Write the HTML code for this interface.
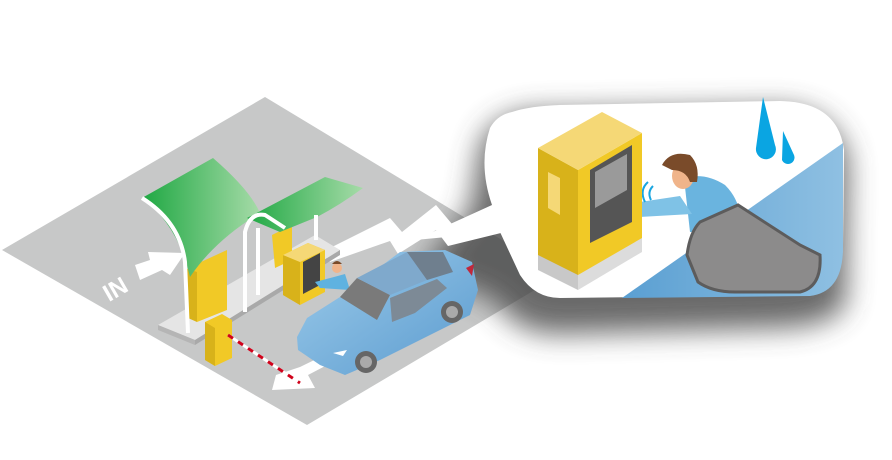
<!DOCTYPE html>
<html><head><meta charset="utf-8"><style>
html,body{margin:0;padding:0;background:#fff;width:892px;height:460px;overflow:hidden}
svg{display:block}
</style></head><body>
<svg width="892" height="460" viewBox="0 0 892 460" xmlns="http://www.w3.org/2000/svg">
<defs>
<linearGradient id="g1" x1="0" y1="0" x2="1" y2="0"><stop offset="0" stop-color="#1fa843"/><stop offset="1" stop-color="#a6dba8"/></linearGradient>
<linearGradient id="car" x1="0" y1="0" x2="1" y2="1"><stop offset="0" stop-color="#9ccbea"/><stop offset="1" stop-color="#5b9bcf"/></linearGradient>
<linearGradient id="ws" x1="0" y1="0" x2="1" y2="0"><stop offset="0" stop-color="#5a9fd2"/><stop offset="1" stop-color="#8fc0e2"/></linearGradient>
<filter id="sh" x="-20%" y="-20%" width="140%" height="150%"><feGaussianBlur stdDeviation="14"/></filter>
</defs>
<polygon points="2,250 265,97 560,275 307,425" fill="#c7c8c8"/>
<!-- bubble shadow -->
<path d="M478,160 Q480,120 530,112 L780,108 Q835,110 848,160 L846,300 Q840,325 780,328 L560,334 Q515,334 495,300 L420,270 L470,210 Z" fill="#444" opacity="0.8" filter="url(#sh)"/>
<polygon points="322,252 390,218 402,232 436,205 452,224 500,205 505,232 448,246 436,230 398,254 390,241 330,262" fill="#fff"/>
<!-- bubble -->
<path d="M512,112 Q530,106 560,105 L780,101 Q838,102 844,150 L843,245 Q842,292 810,295 L560,298 Q535,298 520,275 L500,232 L415,240 L492,205 Q478,165 490,128 Q497,115 512,112 Z" fill="#fff"/>
<path d="M622,298 L843,143 L843,250 Q842,292 810,296 Z" fill="url(#ws)"/>
<!-- person in bubble -->
<path d="M684,178 Q705,172 725,185 Q738,198 740,215 L720,232 L690,232 Z" fill="#6ab4df"/>
<path d="M620,205 L680,196 L692,214 L622,218 Z" fill="#7fc2e6"/>
<ellipse cx="683" cy="176" rx="11" ry="13" fill="#f0b48a"/>
<path d="M662,165 Q670,150 690,155 Q700,165 697,182 L690,182 Q686,170 672,170 Z" fill="#7a4b2a"/>
<rect x="612" y="200" width="12" height="10" rx="4" fill="#f0b48a"/>
<path d="M653,186 q-6,6 -2,14 M648,182 q-9,8 -3,20" stroke="#1aa6e0" stroke-width="2" fill="none"/>
<!-- windshield -->
<path d="M687,255 Q690,232 700,222 L738,205 L800,245 L820,255 Q822,287 800,292 L735,292 Q712,292 698,282 Z" fill="#8c8b8b" stroke="#5d5c5c" stroke-width="3"/>
<!-- kiosk in bubble -->
<polygon points="538,148 578,170 578,280 538,262" fill="#d8b21a"/>
<polygon points="578,170 642,133 642,242 578,280" fill="#f1c926"/>
<polygon points="538,148 602,112 642,133 578,170" fill="#f5d876"/>
<polygon points="538,255 578,275 578,290 538,270" fill="#c8c8c8"/>
<polygon points="578,275 642,238 642,252 578,290" fill="#dcdcdc"/>
<polygon points="548,172 560,178 560,215 548,208" fill="#f5d876"/>
<polygon points="590,170 632,145 632,222 590,243" fill="#555"/>
<polygon points="595,172 627,154 627,190 595,208" fill="#9a9a9a"/>
<path d="M763,97 L775,145 A10,10 0 1 1 756,148 Z" fill="#0aa5e2"/>
<path d="M783,131 L794,155 A6,6 0 1 1 782,160 Z" fill="#0aa5e2"/>
<!-- platform -->
<polygon points="158,325 315,235 340,250 195,340" fill="#e5e5e5"/>
<polygon points="158,325 195,340 195,345 158,330" fill="#b5b5b5"/>
<polygon points="195,340 340,250 340,255 195,345" fill="#a9a9a9"/>
<!-- IN arrow & text -->
<polygon points="135,265 150,260 148,252 185,253 170,275 162,270 140,280" fill="#fff"/>
<text x="103" y="300" transform="rotate(-30 110 290)" font-family="Liberation Sans, sans-serif" font-weight="bold" font-size="24" fill="#fff">IN</text>
<polygon points="276,375 300,367 345,345 352,352 308,375 315,388 272,390" fill="#fff"/>
<!-- booths -->
<polygon points="190,267 227,250 227,310 197,322" fill="#f1c926"/>
<polygon points="185,268 197,272 197,322 188,318" fill="#d8b21a"/>
<polygon points="272,235 292,225 292,260 275,268" fill="#f1c926"/>
<!-- canopy -->
<path d="M142,198 L213,158 Q250,190 260,213 Q215,240 190,277 Q178,225 142,198 Z" fill="url(#g1)"/>
<path d="M247,218 L325,177 L363,188 Q340,205 317,217 L280,232 Z" fill="url(#g1)"/>
<path d="M142,198 Q180,222 185,262 L188,333" stroke="#fff" stroke-width="4" fill="none"/>
<path d="M245,312 L245,232 Q250,212 265,215 L285,228" stroke="#fff" stroke-width="4" fill="none"/>
<line x1="258" y1="295" x2="258" y2="228" stroke="#fff" stroke-width="4"/>
<line x1="316" y1="240" x2="316" y2="215" stroke="#fff" stroke-width="4"/>
<!-- kiosk small -->
<polygon points="283,255 308,243 325,250 325,292 300,305 283,295" fill="#f1c926"/>
<polygon points="283,255 300,262 300,305 283,295" fill="#d8b21a"/>
<polygon points="283,255 308,243 325,250 300,262" fill="#f5d876"/>
<polygon points="303,262 320,253 320,285 303,294" fill="#444"/>
<!-- barrier -->
<polygon points="205,322 222,314 232,320 232,358 215,366 205,360" fill="#f1c926"/>
<polygon points="205,322 215,328 215,366 205,360" fill="#d8b21a"/>
<line x1="228" y1="335" x2="300" y2="383" stroke="#fff" stroke-width="3"/>
<line x1="228" y1="335" x2="300" y2="383" stroke="#d0021b" stroke-width="3" stroke-dasharray="6,6"/>
<!-- man small -->
<circle cx="337" cy="268" r="5" fill="#f0b48a"/>
<path d="M332,264 q5,-6 10,0 z" fill="#7a4b2a"/>
<path d="M315,282 L334,277 L345,274 L350,290 L320,288 Z" fill="#5fb2e0"/>
<!-- car -->
<path d="M297,337 L307,318 L340,297 L400,252 L445,250 L472,262 L478,290 L470,315 L380,360 L345,375 L320,365 L298,350 Z" fill="url(#car)"/>
<polygon points="340,297 357,278 390,295 377,320" fill="#7a7a7a"/>
<polygon points="357,278 407,252 443,252 453,272 427,280 390,295" fill="#7fa9cc"/>
<polygon points="407,252 443,252 453,272 427,280" fill="#6f7f8e"/>
<polygon points="390,298 437,279 447,288 415,313 392,322" fill="#7d8a96"/>
<path d="M466,268 l8,-4 l-2,12 z" fill="#c0283c"/>
<circle cx="366" cy="362" r="11" fill="#666"/><circle cx="366" cy="362" r="6" fill="#aaa"/>
<circle cx="452" cy="312" r="11" fill="#666"/><circle cx="452" cy="312" r="6" fill="#aaa"/>
<path d="M333,353 l14,-3 l-4,6 z" fill="#fff"/>
</svg>
</body></html>
